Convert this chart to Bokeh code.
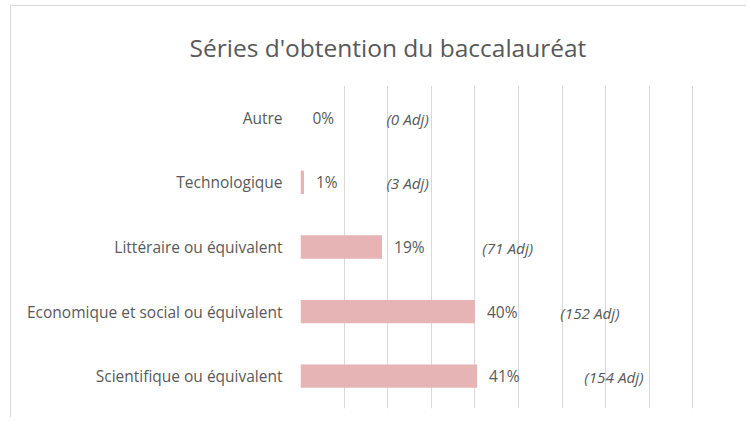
from bokeh.plotting import figure
from bokeh.models import FixedTicker, FactorRange, Range1d, ColumnDataSource
from bokeh.core.properties import value
from bokeh.embed import file_html
from bokeh.resources import INLINE

# ---- data ----
title_text = "Séries d'obtention du baccalauréat"
categories = ["Autre", "Technologique", "Littéraire ou équivalent",
              "Economique et social ou équivalent", "Scientifique ou équivalent"]
shares = [0.0, 0.008, 0.187, 0.400, 0.405]          # share of respondents
pct_labels = ["0%", "1%", "19%", "40%", "41%"]
adj_labels = ["(0 Adj)", "(3 Adj)", "(71 Adj)", "(152 Adj)", "(154 Adj)"]
grid_ticks = [0.0, 0.1, 0.2, 0.3, 0.4, 0.5, 0.6, 0.7, 0.8, 0.9, 1.0]

# ---- layout helpers (positions of the count annotations, in axis units) ----
adj_x = [0.197, 0.197, 0.417, 0.596, 0.651]

TXT = "#595959"
FONT = "Open Sans"

src = ColumnDataSource(dict(cat=categories, share=shares, pct=pct_labels,
                            adj=adj_labels, adj_x=adj_x))

p = figure(width=736, height=412, output_backend="svg", toolbar_location=None,
           y_range=FactorRange(factors=categories[::-1], range_padding=0),
           x_range=Range1d(0, 1),
           min_border_left=289, min_border_right=11, min_border_top=72, min_border_bottom=10)

p.title.text = title_text
p.title.text_font = FONT
p.title.text_font_size = "24.5px"
p.title.text_font_style = "normal"
p.title.text_color = TXT
p.title.align = "left"
p.title.offset = -111
p.title.standoff = 44

p.hbar(y="cat", right="share", left=0, height=0.36, source=src,
       fill_color="#E6B4B4", line_color=None)

p.text(x="share", y="cat", text="pct", source=src, x_offset=12, y_offset=0,
       text_font=value(FONT), text_font_size="15.5px", text_color=TXT,
       text_baseline="middle", text_align="left")

p.text(x="adj_x", y="cat", text="adj", source=src, y_offset=1,
       text_font=value(FONT), text_font_size="15.3px", text_font_style="italic",
       text_color=TXT, text_baseline="middle", text_align="left")

p.xaxis.visible = False
p.xgrid.ticker = FixedTicker(ticks=grid_ticks)
p.xgrid.grid_line_color = "#D9D9D9"
p.ygrid.grid_line_color = None
p.outline_line_color = None

ya = p.yaxis[0]
ya.axis_line_color = None
ya.major_tick_line_color = None
ya.minor_tick_line_color = None
ya.major_label_text_font = FONT
ya.major_label_text_font_size = "15.5px"
ya.major_label_text_color = TXT
ya.major_label_standoff = 12

p.styles = {"margin-left": "10px", "margin-top": "5px",
            "border-top": "1px solid #D9D9D9", "border-left": "1px solid #D9D9D9"}

open("out.html", "w").write(file_html(p, INLINE))
